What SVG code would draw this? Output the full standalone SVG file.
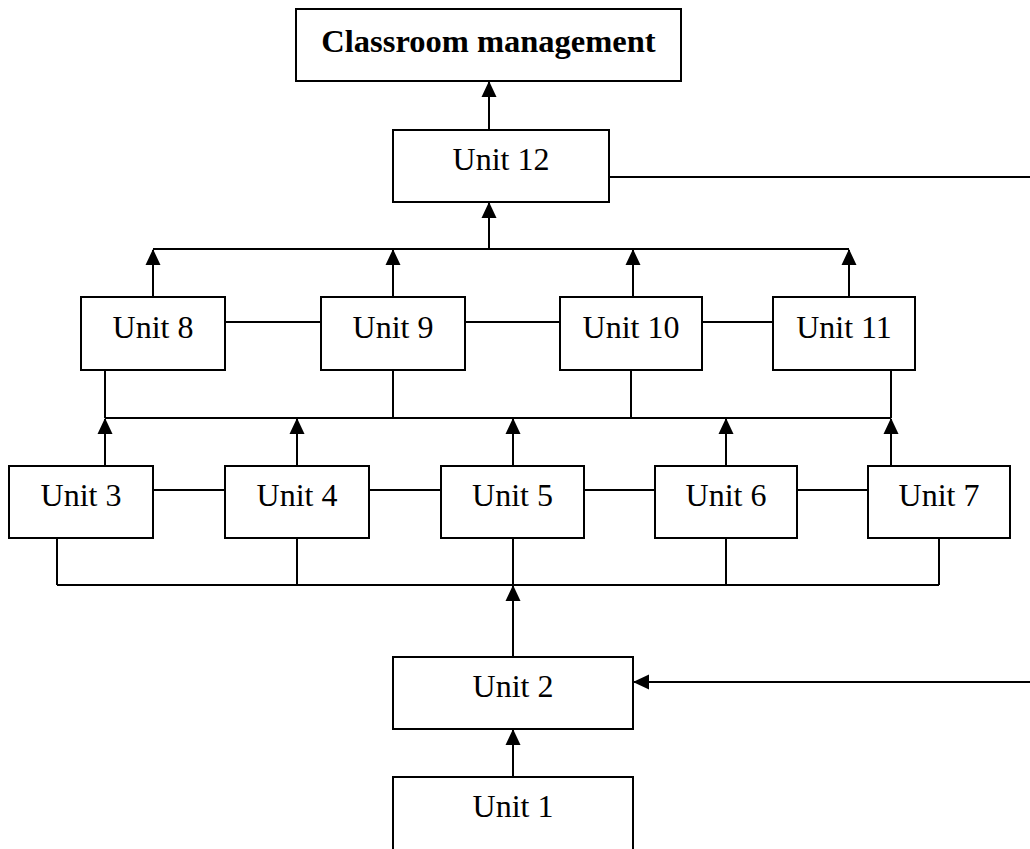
<svg xmlns="http://www.w3.org/2000/svg" width="1030" height="849" viewBox="0 0 1030 849">
<style>
.box{fill:#fff;stroke:#000;stroke-width:2}
.t{font-family:"Liberation Serif","Times New Roman",serif;font-size:32px;text-anchor:middle;fill:#000}
.b{font-weight:bold;font-size:32.5px}
.c{fill:none;stroke:#000;stroke-width:2}
</style>
<defs>
<marker id="ah" markerUnits="userSpaceOnUse" markerWidth="16" markerHeight="16" viewBox="0 0 16 15" refX="15" refY="7.5" orient="auto">
<path d="M0,0 L16,7.5 L0,15 Z" fill="#000"/>
</marker>
</defs>
<rect width="1030" height="849" fill="#fff"/>
<g id="connectors">
<line class="c" x1="489" y1="130" x2="489" y2="82" marker-end="url(#ah)"/>
<line class="c" x1="609" y1="177" x2="1030" y2="177"/>
<line class="c" x1="489" y1="249" x2="489" y2="203" marker-end="url(#ah)"/>
<line class="c" x1="153" y1="249" x2="849" y2="249"/>
<line class="c" x1="153" y1="297" x2="153" y2="250" marker-end="url(#ah)"/>
<line class="c" x1="393" y1="297" x2="393" y2="250" marker-end="url(#ah)"/>
<line class="c" x1="633" y1="297" x2="633" y2="250" marker-end="url(#ah)"/>
<line class="c" x1="849" y1="297" x2="849" y2="250" marker-end="url(#ah)"/>
<line class="c" x1="225" y1="322" x2="321" y2="322"/>
<line class="c" x1="465" y1="322" x2="560" y2="322"/>
<line class="c" x1="702" y1="322" x2="773" y2="322"/>
<line class="c" x1="105" y1="370" x2="105" y2="418"/>
<line class="c" x1="393" y1="370" x2="393" y2="418"/>
<line class="c" x1="631" y1="370" x2="631" y2="418"/>
<line class="c" x1="891" y1="370" x2="891" y2="418"/>
<line class="c" x1="105" y1="418" x2="891" y2="418"/>
<line class="c" x1="105" y1="466" x2="105" y2="419" marker-end="url(#ah)"/>
<line class="c" x1="297" y1="466" x2="297" y2="419" marker-end="url(#ah)"/>
<line class="c" x1="513" y1="466" x2="513" y2="419" marker-end="url(#ah)"/>
<line class="c" x1="726" y1="466" x2="726" y2="419" marker-end="url(#ah)"/>
<line class="c" x1="891" y1="466" x2="891" y2="419" marker-end="url(#ah)"/>
<line class="c" x1="153" y1="490" x2="225" y2="490"/>
<line class="c" x1="369" y1="490" x2="441" y2="490"/>
<line class="c" x1="584" y1="490" x2="655" y2="490"/>
<line class="c" x1="797" y1="490" x2="868" y2="490"/>
<line class="c" x1="57" y1="538" x2="57" y2="585"/>
<line class="c" x1="297" y1="538" x2="297" y2="585"/>
<line class="c" x1="513" y1="538" x2="513" y2="585"/>
<line class="c" x1="726" y1="538" x2="726" y2="585"/>
<line class="c" x1="939" y1="538" x2="939" y2="585"/>
<line class="c" x1="57" y1="585" x2="939" y2="585"/>
<line class="c" x1="513" y1="657" x2="513" y2="586" marker-end="url(#ah)"/>
<line class="c" x1="1030" y1="682" x2="634" y2="682" marker-end="url(#ah)"/>
<line class="c" x1="513" y1="777" x2="513" y2="730" marker-end="url(#ah)"/>
</g>
<g id="classroom"><rect class="box" x="296" y="9" width="385" height="72"/><text class="t b" x="488.5" y="52">Classroom management</text></g>
<g id="unit12"><rect class="box" x="393" y="130" width="216" height="72"/><text class="t" x="501" y="170">Unit 12</text></g>
<g id="unit8"><rect class="box" x="81" y="297" width="144" height="73"/><text class="t" x="153" y="338">Unit 8</text></g>
<g id="unit9"><rect class="box" x="321" y="297" width="144" height="73"/><text class="t" x="393" y="338">Unit 9</text></g>
<g id="unit10"><rect class="box" x="560" y="297" width="142" height="73"/><text class="t" x="631" y="338">Unit 10</text></g>
<g id="unit11"><rect class="box" x="773" y="297" width="142" height="73"/><text class="t" x="844" y="338">Unit 11</text></g>
<g id="unit3"><rect class="box" x="9" y="466" width="144" height="72"/><text class="t" x="81" y="506">Unit 3</text></g>
<g id="unit4"><rect class="box" x="225" y="466" width="144" height="72"/><text class="t" x="297" y="506">Unit 4</text></g>
<g id="unit5"><rect class="box" x="441" y="466" width="143" height="72"/><text class="t" x="512.5" y="506">Unit 5</text></g>
<g id="unit6"><rect class="box" x="655" y="466" width="142" height="72"/><text class="t" x="726" y="506">Unit 6</text></g>
<g id="unit7"><rect class="box" x="868" y="466" width="142" height="72"/><text class="t" x="939" y="506">Unit 7</text></g>
<g id="unit2"><rect class="box" x="393" y="657" width="240" height="72"/><text class="t" x="513" y="697">Unit 2</text></g>
<g id="unit1"><rect class="box" x="393" y="777" width="240" height="90"/><text class="t" x="513" y="817">Unit 1</text></g>
</svg>
